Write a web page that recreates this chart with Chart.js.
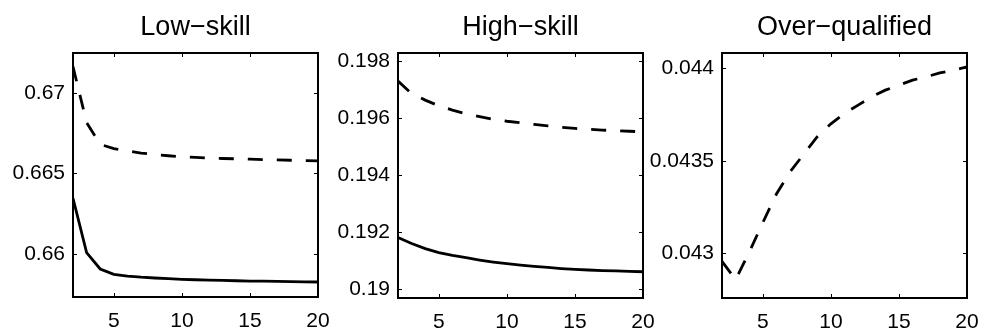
<!DOCTYPE html>
<html>
<head>
<meta charset="utf-8">
<script src="https://cdn.jsdelivr.net/npm/chart.js@4/dist/chart.umd.min.js"></script>
<style>
  html, body { margin: 0; padding: 0; background: #fff; }
  body { width: 982px; height: 333px; position: relative; overflow: hidden; }
  .p { position: absolute; top: 0; height: 333px; }
</style>
</head>
<body>
<div class="p" id="w1" style="left:0px;width:335px"><canvas id="c1"></canvas></div>
<div class="p" id="w2" style="left:325px;width:332px"><canvas id="c2"></canvas></div>
<div class="p" id="w3" style="left:642px;width:340px"><canvas id="c3"></canvas></div>
<script>
// ---- data ----
const periods = [2,3,4,5,6,7,8,9,10,11,12,13,14,15,16,17,18,19,20];
const xTicks = [5,10,15,20];

const titles = ['Low\u2212skill', 'High\u2212skill', 'Over\u2212qualified'];

const lowSkillDashed = [0.67163,0.66816,0.66681,0.66654,0.66640,0.66627,0.66617,0.66610,0.66604,0.66600,0.66596,0.66593,0.66591,0.66589,0.66586,0.66584,0.66582,0.66580,0.66578];
const lowSkillSolid  = [0.66346,0.66008,0.65907,0.65874,0.65863,0.65856,0.65851,0.65847,0.65843,0.65840,0.65838,0.65836,0.65834,0.65832,0.65831,0.65830,0.65828,0.65827,0.65826];

const highSkillDashed = [0.19729,0.19685,0.19662,0.19642,0.19627,0.19614,0.19604,0.19595,0.19588,0.19583,0.19577,0.19572,0.19567,0.19563,0.19560,0.19557,0.19555,0.19553,0.19551];
const highSkillSolid  = [0.19181,0.19160,0.19142,0.19128,0.19118,0.19110,0.19102,0.19095,0.19089,0.19084,0.19080,0.19076,0.19072,0.19069,0.19067,0.19065,0.19064,0.19062,0.19061];

const overQualDashed = [0.042955,0.042856,0.043005,0.043165,0.043320,0.043440,0.043535,0.043630,0.043700,0.043756,0.043801,0.043846,0.043882,0.043909,0.043936,0.043954,0.043975,0.043990,0.044008];

const yTicksLow  = [0.66, 0.665, 0.67];
const yTicksHigh = [0.19, 0.192, 0.194, 0.196, 0.198];
const yTicksOver = [0.043, 0.0435, 0.044];

const yRangeLow  = [0.65733, 0.67248];
const yRangeHigh = [0.18969, 0.19827];
const yRangeOver = [0.042757, 0.044083];

// ---- rendering ----
const FONT = "'Liberation Sans', Arial, Helvetica, sans-serif";

const boxPlugin = {
  id: 'matlabBox',
  afterDraw(chart) {
    const ctx = chart.ctx, a = chart.chartArea;
    const xs = chart.scales.x, ys = chart.scales.y;
    const tl = 4;
    ctx.save();
    ctx.strokeStyle = '#000';
    ctx.lineWidth = 1;
    ctx.beginPath();
    xs.ticks.forEach(t => {
      const px = Math.round(xs.getPixelForValue(t.value)) + 0.5;
      ctx.moveTo(px, a.bottom); ctx.lineTo(px, a.bottom - tl);
      ctx.moveTo(px, a.top); ctx.lineTo(px, a.top + tl);
    });
    ys.ticks.forEach(t => {
      const py = Math.round(ys.getPixelForValue(t.value)) + 0.5;
      ctx.moveTo(a.left, py); ctx.lineTo(a.left + tl, py);
      ctx.moveTo(a.right, py); ctx.lineTo(a.right - tl, py);
    });
    ctx.stroke();
    ctx.lineWidth = 2;
    ctx.strokeRect(a.left, a.top, a.right - a.left, a.bottom - a.top);
    // title
    const title = chart.options.plugins.matlabBox.title;
    ctx.fillStyle = '#000';
    ctx.font = "27px " + FONT;
    ctx.textAlign = 'center';
    ctx.textBaseline = 'alphabetic';
    ctx.fillText(title, (a.left + a.right) / 2, 35);
    ctx.restore();
  }
};

function makeChart(id, title, series, yTicks, yRange, yAxisW, padRight, xAxisH) {
  const datasets = series.map(s => ({
    data: s.values.map((v, i) => ({x: periods[i], y: v})),
    borderColor: '#000',
    borderWidth: 2.8,
    borderDash: s.dashed ? [15, 14] : [],
    pointRadius: 0,
    tension: 0,
    fill: false
  }));
  return new Chart(document.getElementById(id), {
    type: 'line',
    data: { datasets },
    plugins: [boxPlugin],
    options: {
      responsive: true,
      maintainAspectRatio: false,
      animation: false,
      events: [],
      layout: { autoPadding: false, padding: { top: 53, left: 0, right: padRight, bottom: 0 } },
      plugins: { legend: { display: false }, tooltip: { enabled: false }, title: { display: false },
                 matlabBox: { title } },
      scales: {
        x: {
          type: 'linear', min: periods[0], max: periods[periods.length - 1],
          afterBuildTicks: sc => { sc.ticks = xTicks.map(v => ({ value: v })); },
          afterFit: sc => { sc.height = xAxisH; sc.paddingLeft = 0; sc.paddingRight = 0; },
          grid: { display: false, drawTicks: false },
          border: { display: false },
          ticks: { color: '#000', font: { family: FONT, size: 21 }, padding: 12, maxRotation: 0,
                   callback: v => String(v) }
        },
        y: {
          type: 'linear', min: yRange[0], max: yRange[1],
          afterBuildTicks: sc => { sc.ticks = yTicks.map(v => ({ value: v })); },
          afterFit: sc => { sc.width = yAxisW; sc.paddingTop = 0; sc.paddingBottom = 0; },
          grid: { display: false, drawTicks: false },
          border: { display: false },
          ticks: { color: '#000', font: { family: FONT, size: 21 }, padding: 8,
                   callback: v => String(v) }
        }
      }
    }
  });
}

makeChart('c1', titles[0], [{values: lowSkillDashed, dashed: true}, {values: lowSkillSolid, dashed: false}],
          yTicksLow, yRangeLow, 73, 17, 36);
makeChart('c2', titles[1], [{values: highSkillDashed, dashed: true}, {values: highSkillSolid, dashed: false}],
          yTicksHigh, yRangeHigh, 73, 14, 35);
makeChart('c3', titles[2], [{values: overQualDashed, dashed: true}],
          yTicksOver, yRangeOver, 80, 15, 35);
</script>
</body>
</html>
